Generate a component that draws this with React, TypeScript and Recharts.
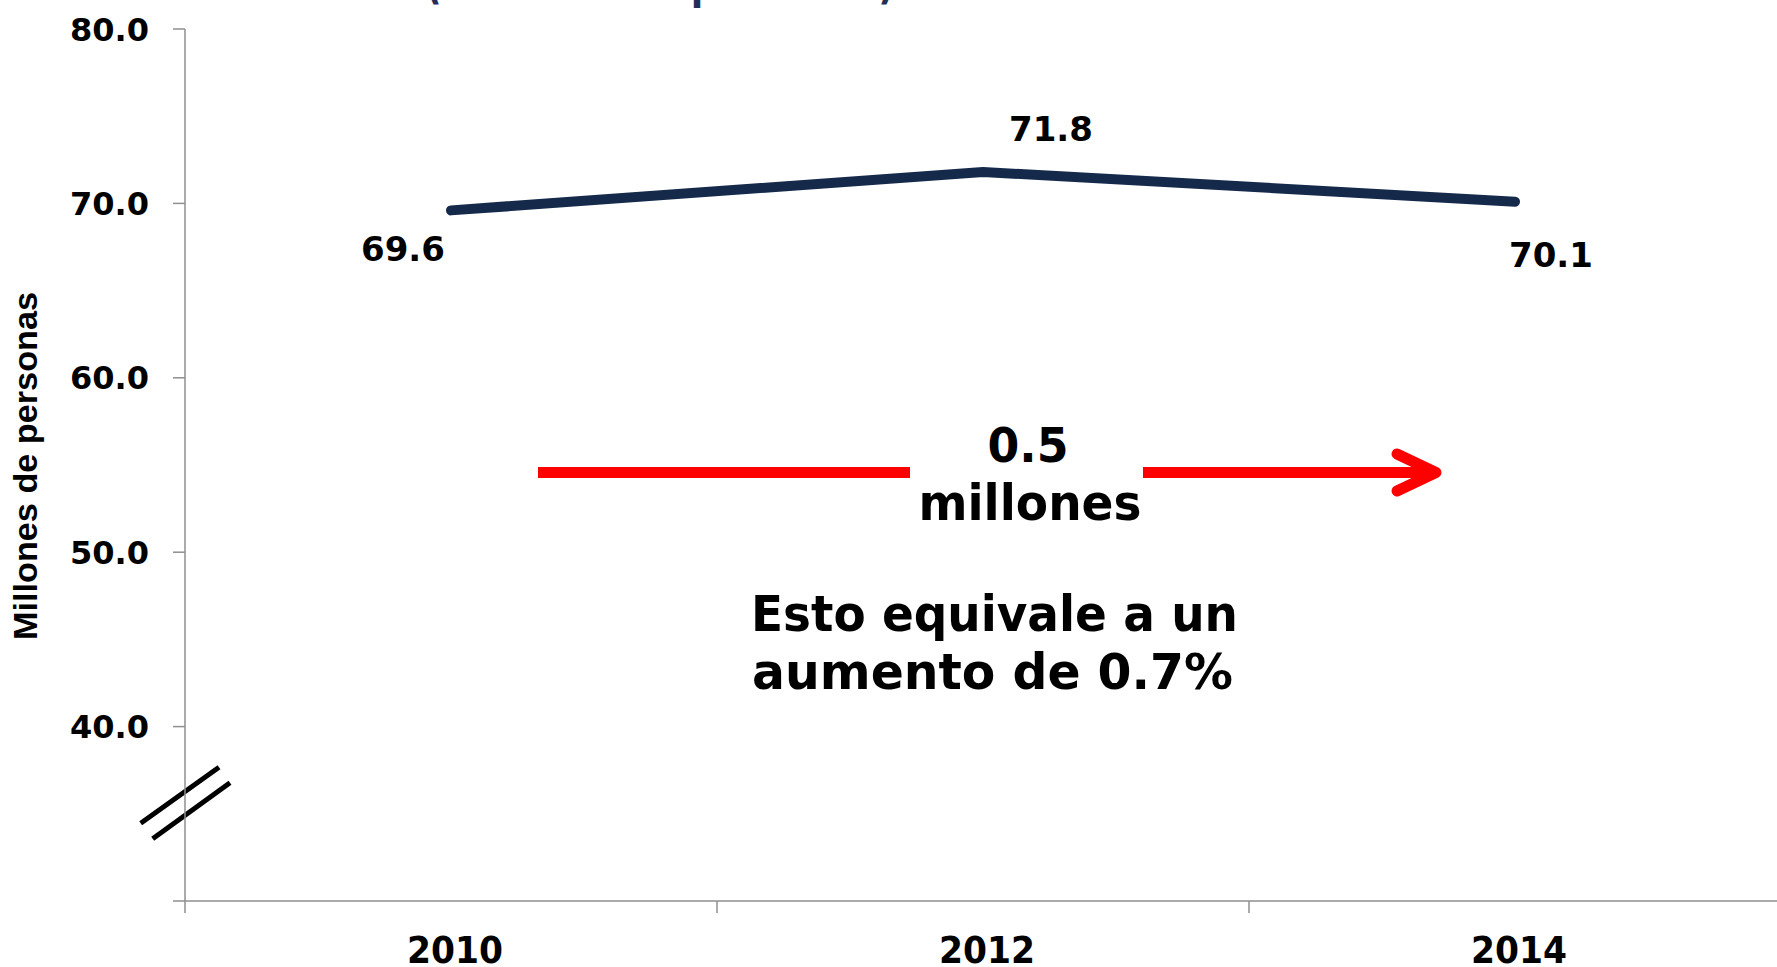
import React from 'react';
import { LineChart, Line, XAxis, YAxis, LabelList, Customized } from 'recharts';

// ---- data ----
const years = [2010, 2012, 2014];
const personas = [69.6, 71.8, 70.1];
const yTicks = [30, 40, 50, 60, 70, 80];
const xTicks = [2009, 2010, 2011, 2012, 2013, 2014, 2015];
const titleText = '(millones de personas)';
const yAxisTitle = 'Millones de personas';
const changeValue = '0.5';
const changeUnit = 'millones';
const noteLines = ['Esto equivale a un', 'aumento de 0.7%'];

// label offsets (style) relative to each point
const labelOffsets: [number, number][] = [[-48, 51], [68, -31], [36, 65]];

const data = years.map((year, i) => ({ year, value: personas[i] }));

const FONT = "'DejaVu Sans', Verdana, sans-serif";
const AXIS_COLOR = '#8f8f8f';
const LINE_COLOR = '#152a4a';

const YTick = (props: any) => {
  const { x, y, payload } = props;
  if (payload.value === 30) return <g />;
  return (
    <text x={x} y={y} dy={11.5} textAnchor="end" fontFamily={FONT} fontWeight="bold" fontSize={32} textLength={79} lengthAdjust="spacingAndGlyphs" fill="#000">
      {Number(payload.value).toFixed(1)}
    </text>
  );
};

const XTick = (props: any) => {
  const { x, y, payload } = props;
  const v = payload.value;
  if (v % 2 === 1) {
    return <line x1={x} x2={x} y1={y} y2={y + 12} stroke={AXIS_COLOR} strokeWidth={1.5} />;
  }
  return (
    <text x={x + 4} y={y + 62} textAnchor="middle" fontFamily={FONT} fontWeight="bold" fontSize={37} textLength={96} lengthAdjust="spacingAndGlyphs" fill="#000">
      {v}
    </text>
  );
};

const DataLabel = (props: any) => {
  const { x, y, index, value } = props;
  const [dx, dy] = labelOffsets[index] || [0, 0];
  return (
    <text x={x + dx} y={y + dy} textAnchor="middle" fontFamily={FONT} fontWeight="bold" fontSize={34} fill="#000">
      {Number(value).toFixed(1)}
    </text>
  );
};

const Annotations = () => (
  <g>
    {/* title (cut off at top) */}
    <text x={425} y={-2} fontFamily={FONT} fontWeight="bold" fontSize={50} fill="#1f2f5a" textLength={470} lengthAdjust="spacingAndGlyphs">
      {titleText}
    </text>
    {/* y-axis title */}
    <text transform="translate(37,466) rotate(-90)" textAnchor="middle" fontFamily="'Liberation Sans', Arial, sans-serif" fontWeight="bold" fontSize={34} fill="#000" textLength={348} lengthAdjust="spacingAndGlyphs">
      {yAxisTitle}
    </text>
    {/* axis break marks */}
    <line x1={140.7} y1={823.3} x2={219} y2={767.3} stroke="#000" strokeWidth={5} />
    <line x1={152.7} y1={838.7} x2={230} y2={782.7} stroke="#000" strokeWidth={5} />
    {/* red arrow */}
    <line x1={538} y1={472.5} x2={910} y2={472.5} stroke="#ff0000" strokeWidth={11} />
    <line x1={1143} y1={472.5} x2={1434} y2={472.5} stroke="#ff0000" strokeWidth={11} />
    <polyline points="1397,454 1436,472.5 1397,491" fill="none" stroke="#ff0000" strokeWidth={11} strokeLinecap="round" strokeLinejoin="round" />
    {/* change text */}
    <text x={1028} y={462} textAnchor="middle" fontFamily={FONT} fontWeight="bold" fontSize={48} textLength={81} lengthAdjust="spacingAndGlyphs" fill="#000">
      {changeValue}
    </text>
    <text x={1030} y={520} textAnchor="middle" fontFamily={FONT} fontWeight="bold" fontSize={49} textLength={223} lengthAdjust="spacingAndGlyphs" fill="#000">
      {changeUnit}
    </text>
    <text x={994.5} y={631} textAnchor="middle" fontFamily={FONT} fontWeight="bold" fontSize={50} textLength={487} lengthAdjust="spacingAndGlyphs" fill="#000">
      {noteLines[0]}
    </text>
    <text x={992.5} y={689} textAnchor="middle" fontFamily={FONT} fontWeight="bold" fontSize={50} textLength={481} lengthAdjust="spacingAndGlyphs" fill="#000">
      {noteLines[1]}
    </text>
  </g>
);

export default function App() {
  return (
    <div style={{ position: 'absolute', left: 0, top: 0, width: 1777, height: 967, overflow: 'hidden', background: '#fff' }}>
      <LineChart width={1790} height={967} data={data} margin={{ top: 29, right: 9, bottom: 0, left: 0 }}>
        <XAxis
          dataKey="year"
          type="number"
          domain={[2009, 2015]}
          ticks={xTicks}
          interval={0}
          height={66}
          tickSize={0}
          tickMargin={0}
          tickLine={false}
          axisLine={{ stroke: AXIS_COLOR, strokeWidth: 1.5 }}
          tick={<XTick />}
          allowDataOverflow
        />
        <YAxis
          type="number"
          domain={[30, 80]}
          ticks={yTicks}
          interval={0}
          width={185}
          tickSize={12}
          tickMargin={24}
          tickLine={{ stroke: AXIS_COLOR, strokeWidth: 1.5 }}
          axisLine={{ stroke: AXIS_COLOR, strokeWidth: 1.5 }}
          tick={<YTick />}
          allowDataOverflow
        />
        <Line
          dataKey="value"
          stroke={LINE_COLOR}
          strokeWidth={10}
          strokeLinecap="round"
          strokeLinejoin="round"
          dot={false}
          activeDot={false}
          isAnimationActive={false}
        >
          <LabelList dataKey="value" content={<DataLabel />} />
        </Line>
        <Customized component={<Annotations />} />
      </LineChart>
    </div>
  );
}
